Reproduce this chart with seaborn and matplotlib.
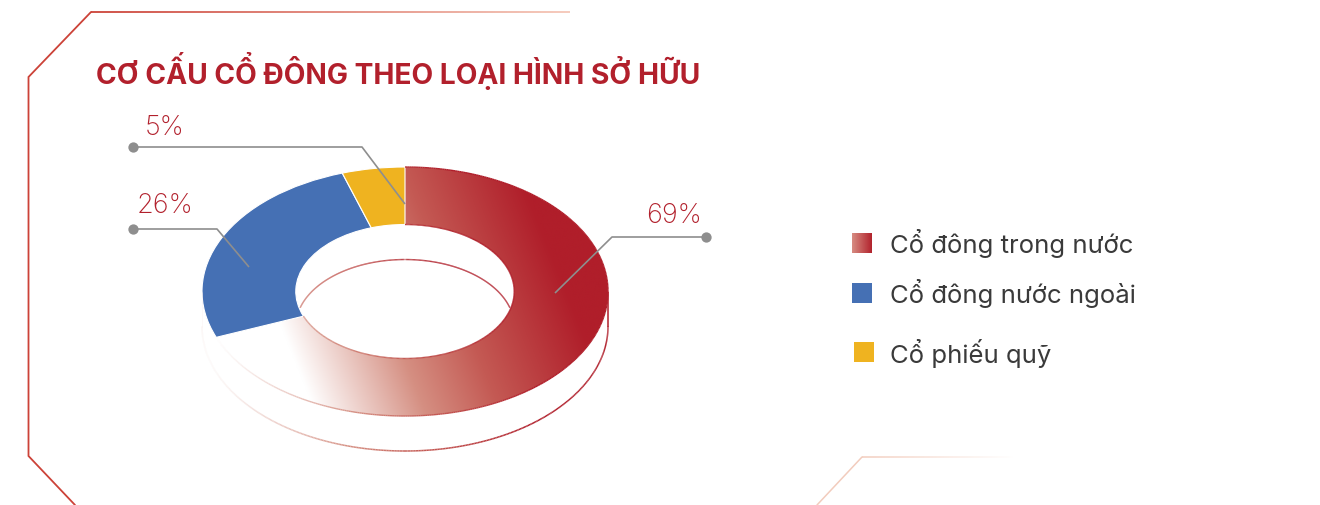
import numpy as np
import matplotlib
matplotlib.use("Agg")
import matplotlib.pyplot as plt
import seaborn as sns
from matplotlib.collections import LineCollection

# ---- data -------------------------------------------------------------
categories = ["Cổ đông trong nước", "Cổ đông nước ngoài", "Cổ phiếu quỹ"]
shares = [69, 26, 5]
palette = ["#B01F2B", "#4570B4", "#EFB320"]
title = "CƠ CẤU CỔ ĐÔNG THEO LOẠI HÌNH SỞ HỮU"

# ---- style ------------------------------------------------------------
sns.set_theme(style="white")
plt.rcParams["font.family"] = ["Inter", "DejaVu Sans"]

RED = "#B2202C"
GREY = "#8E8E8E"
TEXT = "#3A3A3A"

W, H = 1320, 506
fig = plt.figure(figsize=(W / 100, H / 100), dpi=100)
fig.patch.set_facecolor("white")

# donut geometry (pixels) - an ellipse seen in perspective, with a rim
CX, CY = 405, 292.5
RX, RY = 203, 124.5
HOLE = 0.538
DEPTH = 35 / RY
XL, YB, YT = 1.03, -1.40, 1.05

ax_d = fig.add_axes([(CX - XL * RX) / W, (H - (CY - YB * RY)) / H,
                     2 * XL * RX / W, (YT - YB) * RY / H], zorder=1)

# red gradient: white at lower-left, deep red toward upper-right
stops_p = [150, 260, 335, 450]
stops_c = np.array([[255, 255, 255], [213, 143, 130], [196, 90, 84], [176, 30, 42]]) / 255


def grad_rgb(p):
    p = np.asarray(p, dtype=float)
    return np.stack([np.interp(p, stops_p, stops_c[:, k]) for k in range(3)], axis=-1)


def proj(u, v):
    return (CX + RX * u) - 0.4 * (CY - RY * v)


wedges, _ = ax_d.pie(shares, colors=palette, startangle=90, counterclock=False,
                     radius=1, wedgeprops=dict(width=1 - HOLE, edgecolor="white",
                                               linewidth=0.8))
red_wedge = wedges[0]
red_wedge.set_facecolor("none")
red_wedge.set_edgecolor("none")

uu, vv = np.meshgrid(np.linspace(-1, 1, 500), np.linspace(-1, 1, 400))
img = grad_rgb(proj(uu, vv))
im = ax_d.imshow(img, extent=(-1, 1, -1, 1), origin="lower", aspect="auto",
                 interpolation="bilinear", zorder=0.5)
im.set_clip_path(red_wedge)


def gradient_line(u, v, shift=80, lw=1.1, alpha=1.0, z=3):
    pts = np.column_stack([u, v])
    segs = np.stack([pts[:-1], pts[1:]], axis=1)
    mid = (pts[:-1] + pts[1:]) / 2
    cols = grad_rgb(proj(mid[:, 0], mid[:, 1]) + shift)
    cols = np.column_stack([cols, np.full(len(cols), alpha)])
    lc = LineCollection(segs, colors=cols, linewidths=lw, zorder=z)
    ax_d.add_collection(lc)


# outline of the red segment (outer and inner edges)
a0 = np.deg2rad(90 - 360 * shares[0] / sum(shares))
t = np.linspace(a0, np.deg2rad(90), 400)
gradient_line(np.cos(t), np.sin(t), shift=70, lw=1.0)
gradient_line(HOLE * np.cos(t), HOLE * np.sin(t), shift=70, lw=1.0)

# lower rim of the ring
t = np.linspace(np.pi, 2 * np.pi, 400)
gradient_line(np.cos(t), np.sin(t) - DEPTH, shift=90, lw=1.1)
gradient_line(np.array([1, 1]), np.array([0, -DEPTH]), shift=90, lw=1.1)
gradient_line(np.array([-1, -1]), np.array([0, -DEPTH]), shift=90, lw=0.6, alpha=0.4)

# inner wall seen through the hole
t = np.linspace(0, np.pi, 400)
iu, iv = HOLE * np.cos(t), HOLE * np.sin(t) - DEPTH
inside = (iu / HOLE) ** 2 + (iv / HOLE) ** 2 < 0.985
iu, iv = iu[inside], iv[inside]
gradient_line(iu, iv, shift=110, lw=1.0)

ax_d.set_aspect("auto")
ax_d.set_xlim(-XL, XL)
ax_d.set_ylim(YB, YT)
ax_d.axis("off")

# ---- overlay: frame, title, leaders, legend --------------------------
ax = fig.add_axes([0, 0, 1, 1], zorder=2)
ax.set_xlim(0, W)
ax.set_ylim(H, 0)
ax.axis("off")
ax.patch.set_alpha(0)


def fading_line(x0, x1, y, c0, c1, lw):
    xs = np.linspace(x0, x1, 200)
    segs = [[(xs[i], y), (xs[i + 1], y)] for i in range(len(xs) - 1)]
    f = np.linspace(0, 1, len(segs))[:, None]
    cols = np.array(c0) * (1 - f) + np.array(c1) * f
    ax.add_collection(LineCollection(segs, colors=cols, linewidths=lw))


frame_red = (0.80, 0.26, 0.22)
ax.plot([91, 28.5, 28.5, 75], [13, 78, 457, 506], color=frame_red, lw=1.3,
        solid_joinstyle="miter")
fading_line(91, 570, 13, frame_red, (0.96, 0.78, 0.72), 1.3)
ax.plot([817, 862], [506, 458], color=(0.95, 0.80, 0.74), lw=1.1)
fading_line(862, 1015, 458, (0.95, 0.80, 0.74), (1, 1, 1), 1.1)

ax.text(96, 71, title, color=RED, fontsize=20.3, fontweight="bold",
        ha="left", va="center")

# leader lines with value labels
leaders = [
    ([706, 612, 555], [238, 238, 294], (674, 216)),
    ([133, 217, 249], [230, 230, 268], (165, 206)),
    ([133, 362, 405], [148, 148, 205], (165, 128)),
]
for val, (lx, ly, (tx, ty)) in zip(shares, leaders):
    ax.plot(lx, ly, color=GREY, lw=1.2, solid_capstyle="butt")
    ax.scatter([lx[0]], [ly[0]], s=55, color=GREY, zorder=5, linewidths=0)
    ax.text(tx, ty, f"{val}%", color=RED, fontsize=19.5, fontweight="light",
            ha="center", va="center")

# legend
legend_y = [244, 294, 353]
sq = 20
for i, (name, col, y) in enumerate(zip(categories, palette, legend_y)):
    x0 = 852 + (2 if i == 2 else 0)
    if i == 0:
        g = np.linspace(0, 1, 64)[None, :, None]
        c_l = np.array([215, 140, 130]) / 255
        c_r = np.array([178, 35, 45]) / 255
        sw = np.repeat(c_l * (1 - g) + c_r * g, 8, axis=0)
        ax.imshow(sw, extent=(x0, x0 + sq, y + sq / 2, y - sq / 2), aspect="auto",
                  interpolation="bilinear", zorder=3)
    else:
        ax.add_patch(plt.Rectangle((x0, y - sq / 2), sq, sq, color=col, lw=0, zorder=3))
    ax.text(890, y, name, color=TEXT, fontsize=18.5, ha="left", va="center")

ax.set_xlim(0, W)
ax.set_ylim(H, 0)

fig.savefig("out.png", dpi=100, facecolor="white")
